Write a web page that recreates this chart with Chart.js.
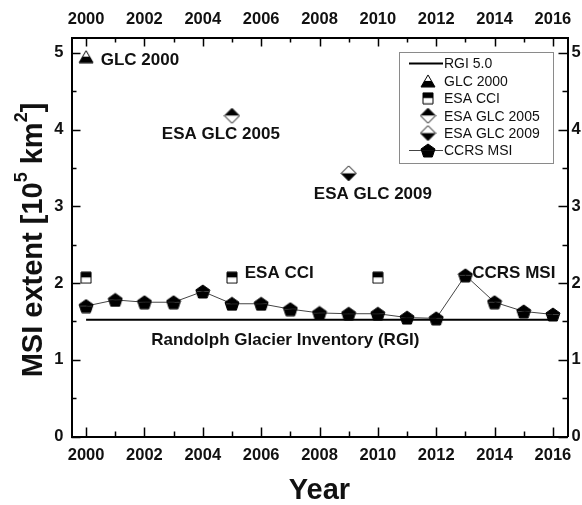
<!DOCTYPE html>
<html>
<head>
<meta charset="utf-8">
<script src="https://cdn.jsdelivr.net/npm/chart.js@4"></script>
<style>
  html, body { margin: 0; padding: 0; background: #fff; overflow: hidden; }
  canvas { display: block; }
</style>
</head>
<body>
<canvas id="chart" width="582" height="505"></canvas>
<script>
// values, units of 10^5 km^2
const years = [2000, 2001, 2002, 2003, 2004, 2005, 2006, 2007, 2008, 2009, 2010, 2011, 2012, 2013, 2014, 2015, 2016];
const ccrsMsi = [1.70, 1.78, 1.75, 1.75, 1.89, 1.73, 1.73, 1.66, 1.61, 1.60, 1.60, 1.55, 1.54, 2.10, 1.75, 1.63, 1.59];
const rgiYears = [2000, 2016];
const rgiValues = [1.52, 1.52];
const esaCciYears = [2000, 2005, 2010];
const esaCciValues = [2.07, 2.07, 2.07];
const glc2000Years = [2000];
const glc2000Values = [4.95];
const esaGlc2005Years = [2005];
const esaGlc2005Values = [4.18];
const esaGlc2009Years = [2009];
const esaGlc2009Values = [3.43];

const xTicks = [2000, 2002, 2004, 2006, 2008, 2010, 2012, 2014, 2016];
const xMinorTicks = [2001, 2003, 2005, 2007, 2009, 2011, 2013, 2015];
const yTicks = [0, 1, 2, 3, 4, 5];
const yMinorTicks = [0.5, 1.5, 2.5, 3.5, 4.5];

// text notes placed in data units
const notes = [
  { text: "GLC 2000", x: 2000.5, y: 4.92, align: "left" },
  { text: "ESA GLC 2005", x: 2004.62, y: 3.96, align: "center" },
  { text: "ESA GLC 2009", x: 2009.83, y: 3.17, align: "center" },
  { text: "ESA CCI", x: 2006.62, y: 2.14, align: "center" },
  { text: "CCRS MSI", x: 2014.66, y: 2.14, align: "center" },
  { text: "Randolph Glacier Inventory (RGI)", x: 2006.83, y: 1.27, align: "center" },
];

const FONT = "'Liberation Sans', Arial, sans-serif";
Chart.defaults.font.family = FONT;
Chart.defaults.color = "#111";

function toPoints(xs, ys) {
  return xs.map((x, i) => ({ x, y: ys[i] }));
}

// half-filled marker drawn into a small canvas
function marker(shape, w, h, topColor, bottomColor) {
  const c = document.createElement("canvas");
  c.width = w + 2;
  c.height = h + 2;
  const ctx = c.getContext("2d");
  const l = 1, t = 1, r = w + 1, b = h + 1, cx = c.width / 2, cy = c.height / 2;
  const p = new Path2D();
  if (shape === "triangle") {
    p.moveTo(cx, t); p.lineTo(r, b); p.lineTo(l, b); p.closePath();
  } else if (shape === "square") {
    p.rect(l, t, w, h);
  } else if (shape === "diamond") {
    p.moveTo(cx, t); p.lineTo(r, cy); p.lineTo(cx, b); p.lineTo(l, cy); p.closePath();
  } else {
    const R = h / 1.809;
    const oy = t + R;
    for (let k = 0; k < 5; k++) {
      const a = -Math.PI / 2 + k * 2 * Math.PI / 5;
      const px = cx + R * Math.cos(a) * (w / (1.902 * R));
      const py = oy + R * Math.sin(a);
      if (k === 0) p.moveTo(px, py); else p.lineTo(px, py);
    }
    p.closePath();
  }
  ctx.save();
  ctx.clip(p);
  ctx.fillStyle = topColor;
  ctx.fillRect(0, 0, c.width, cy);
  ctx.fillStyle = bottomColor;
  ctx.fillRect(0, cy, c.width, c.height - cy);
  ctx.restore();
  ctx.lineWidth = 1;
  ctx.strokeStyle = "#000";
  ctx.stroke(p);
  return c;
}

const triMark = marker("triangle", 14, 12, "#fff", "#000");
const sqMark = marker("square", 10, 11, "#000", "#fff");
const dia05Mark = marker("diamond", 15, 15, "#000", "#fff");
const dia09Mark = marker("diamond", 15, 15, "#fff", "#000");
const pentMark = marker("pentagon", 14, 13, "#000", "#000");

const inwardTicks = {
  id: "inwardTicks",
  afterDraw(chart) {
    const { ctx, chartArea: a, scales } = chart;
    ctx.save();
    ctx.strokeStyle = "#000";
    ctx.lineWidth = 1.5;
    ctx.beginPath();
    [[xTicks, 9], [xMinorTicks, 5]].forEach(([vals, len]) => {
      vals.forEach((v) => {
        const px = Math.round(scales.x.getPixelForValue(v)) + 0.5;
        ctx.moveTo(px, a.bottom); ctx.lineTo(px, a.bottom - len);
        ctx.moveTo(px, a.top); ctx.lineTo(px, a.top + len);
      });
    });
    [[yTicks, 9], [yMinorTicks, 5]].forEach(([vals, len]) => {
      vals.forEach((v) => {
        const py = Math.round(scales.y.getPixelForValue(v)) + 0.5;
        ctx.moveTo(a.left, py); ctx.lineTo(a.left + len, py);
        ctx.moveTo(a.right, py); ctx.lineTo(a.right - len, py);
      });
    });
    ctx.stroke();
    ctx.restore();
  },
};

const noteLabels = {
  id: "noteLabels",
  afterDatasetsDraw(chart) {
    const { ctx, scales } = chart;
    ctx.save();
    ctx.font = `bold 17px ${FONT}`;
    ctx.fillStyle = "#111";
    ctx.textBaseline = "alphabetic";
    notes.forEach((n) => {
      ctx.textAlign = n.align;
      ctx.fillText(n.text, scales.x.getPixelForValue(n.x), scales.y.getPixelForValue(n.y) + 6);
    });
    ctx.restore();
  },
};

const boxLegend = {
  id: "boxLegend",
  afterDraw(chart) {
    const { ctx, chartArea: a } = chart;
    const w = 154, h = 111;
    const left = Math.round(a.right - 15 - w), top = Math.round(a.top + 14);
    ctx.save();
    ctx.fillStyle = "#fff";
    ctx.fillRect(left, top, w, h);
    ctx.strokeStyle = "#8a8a8a";
    ctx.lineWidth = 1;
    ctx.strokeRect(left + 0.5, top + 0.5, w, h);
    ctx.font = `14px ${FONT}`;
    ctx.textAlign = "left";
    ctx.textBaseline = "middle";
    chart.data.datasets.forEach((ds, i) => {
      const y = top + 11.5 + i * 17.4;
      if (ds.showLine) {
        ctx.strokeStyle = ds.borderColor;
        ctx.lineWidth = ds.borderWidth;
        ctx.beginPath();
        ctx.moveTo(left + 10, y);
        ctx.lineTo(left + 44, y);
        ctx.stroke();
      }
      if (ds.pointRadius > 0 && ds.pointStyle) {
        const s = ds.pointStyle;
        ctx.drawImage(s, left + 29 - s.width / 2, y - s.height / 2);
      }
      ctx.fillStyle = "#111";
      ctx.fillText(ds.label, left + 45, y + 1);
    });
    ctx.restore();
  },
};

const yTitle = {
  id: "yTitle",
  afterDraw(chart) {
    const { ctx, chartArea: a } = chart;
    const big = `bold 29px ${FONT}`, small = `bold 18px ${FONT}`;
    const parts = [
      { t: "MSI extent [10", f: big, up: 0 },
      { t: "5", f: small, up: 15 },
      { t: " km", f: big, up: 0 },
      { t: "2", f: small, up: 15 },
      { t: "]", f: big, up: 0 },
    ];
    ctx.save();
    let total = 0;
    parts.forEach((p) => { ctx.font = p.f; p.w = ctx.measureText(p.t).width; total += p.w; });
    ctx.translate(31, (a.top + a.bottom) / 2 + 3);
    ctx.rotate(-Math.PI / 2);
    ctx.fillStyle = "#111";
    ctx.textBaseline = "alphabetic";
    ctx.textAlign = "left";
    let x = -total / 2;
    parts.forEach((p) => {
      ctx.font = p.f;
      ctx.fillText(p.t, x, 10.5 - p.up);
      x += p.w;
    });
    ctx.restore();
  },
};

const tickFont = { size: 16.5, weight: "bold" };
const noGrid = { display: false, drawTicks: false };
const frame = { display: true, color: "#000", width: 2 };

new Chart(document.getElementById("chart"), {
  type: "line",
  data: {
    datasets: [
      { label: "RGI 5.0", data: toPoints(rgiYears, rgiValues), borderColor: "#000", borderWidth: 2, pointRadius: 0, showLine: true },
      { label: "GLC 2000", data: toPoints(glc2000Years, glc2000Values), showLine: false, pointStyle: triMark, pointRadius: 7 },
      { label: "ESA CCI", data: toPoints(esaCciYears, esaCciValues), showLine: false, pointStyle: sqMark, pointRadius: 6 },
      { label: "ESA GLC 2005", data: toPoints(esaGlc2005Years, esaGlc2005Values), showLine: false, pointStyle: dia05Mark, pointRadius: 7 },
      { label: "ESA GLC 2009", data: toPoints(esaGlc2009Years, esaGlc2009Values), showLine: false, pointStyle: dia09Mark, pointRadius: 7 },
      { label: "CCRS MSI", data: toPoints(years, ccrsMsi), borderColor: "#444", borderWidth: 1, showLine: true, pointStyle: pentMark, pointRadius: 7 },
    ],
  },
  options: {
    responsive: false,
    animation: false,
    layout: { padding: 0 },
    plugins: { legend: { display: false }, tooltip: { enabled: false } },
    scales: {
      x: {
        type: "linear", position: "bottom", min: 1999.5, max: 2016.5,
        afterBuildTicks: (s) => { s.ticks = xTicks.map((v) => ({ value: v })); },
        afterFit: (s) => { s.height = 68.5; },
        ticks: { font: tickFont, padding: 9, maxRotation: 0, autoSkip: false, callback: (v) => String(v) },
        grid: noGrid, border: frame,
        title: { display: true, text: "Year", font: { size: 29, weight: "bold", lineHeight: 1 }, padding: { top: 0, bottom: 0 } },
      },
      x2: {
        type: "linear", position: "top", min: 1999.5, max: 2016.5,
        afterBuildTicks: (s) => { s.ticks = xTicks.map((v) => ({ value: v })); },
        afterFit: (s) => { s.height = 37.5; },
        ticks: { font: tickFont, padding: 8, maxRotation: 0, autoSkip: false, callback: (v) => String(v) },
        grid: noGrid, border: frame,
      },
      y: {
        type: "linear", position: "left", min: 0, max: 5.2,
        afterBuildTicks: (s) => { s.ticks = yTicks.map((v) => ({ value: v })); },
        afterFit: (s) => { s.width = 71.5; },
        ticks: { font: tickFont, padding: 8, autoSkip: false, callback: (v) => String(v) },
        grid: noGrid, border: frame,
      },
      y2: {
        type: "linear", position: "right", min: 0, max: 5.2,
        afterBuildTicks: (s) => { s.ticks = yTicks.map((v) => ({ value: v })); },
        afterFit: (s) => { s.width = 14.5; },
        ticks: { font: tickFont, padding: 4, autoSkip: false, callback: (v) => String(v) },
        grid: noGrid, border: frame,
      },
    },
  },
  plugins: [noteLabels, inwardTicks, boxLegend, yTitle],
});
</script>
</body>
</html>
